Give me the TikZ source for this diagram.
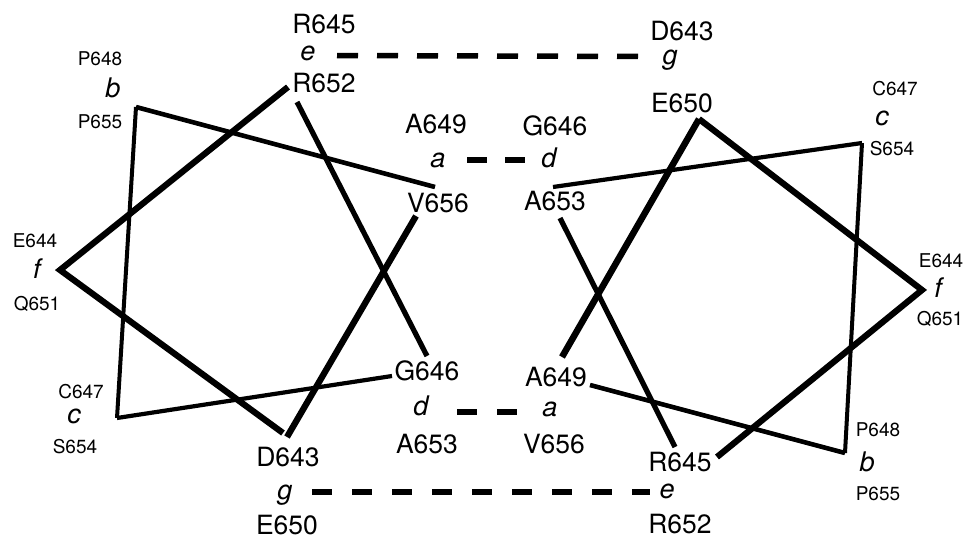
\documentclass[tikz,border=0pt]{standalone}
\usepackage{fontspec}
\setmainfont{TeX Gyre Heros}
\begin{document}
\begin{tikzpicture}[x=1pt,y=-1pt,
  big/.style={font=\fontsize{26.5}{28}\selectfont, anchor=base, inner sep=0pt},
  small/.style={font=\fontsize{19}{20}\selectfont, anchor=base, inner sep=0pt},
  heptad/.style={font=\fontsize{27}{28}\selectfont\itshape, anchor=base, inner sep=0pt},
  wheel/.style={line cap=butt, line join=miter, miter limit=20},
  link/.style={line width=5.5pt, dash pattern=on 21pt off 19pt}]
\useasboundingbox (0,0) rectangle (967,538);

% ---------------- left wheel labels
\node[big] (lR645) at (324,33) {R645};
\node[heptad] (le) at (308,60) {e};
\node[big] (lR652) at (324,92) {R652};
\node[small] (lP648) at (100,65) {P648};
\node[heptad] (lb) at (113,97) {b};
\node[small] (lP655) at (100,128) {P655};
\node[big] (lA649) at (436,133) {A649};
\node[heptad] (la) at (438,167) {a};
\node[big] (lV656) at (438,212) {V656};
\node[small] (lE644) at (35,247) {E644};
\node[heptad] (lf) at (37,278) {f};
\node[small] (lQ651) at (37,310) {Q651};
\node[small] (lC647) at (81,398) {C647};
\node[heptad] (lc) at (74,423) {c};
\node[small] (lS654) at (75,453) {S654};
\node[big] (lG646) at (427,380) {G646};
\node[heptad] (ld) at (421,415) {d};
\node[big] (lA653) at (427,453) {A653};
\node[big] (lD643) at (288,466) {D643};
\node[heptad] (lg) at (285,499) {g};
\node[big] (lE650) at (287,534) {E650};

% ---------------- right wheel labels
\node[big] (rD643) at (682,40) {D643};
\node[heptad] (rg) at (670,64) {g};
\node[big] (rE650) at (682,112) {E650};
\node[big] (rG646) at (555,135) {G646};
\node[heptad] (rd) at (549,167) {d};
\node[big] (rA653) at (555,210) {A653};
\node[small] (rC647) at (895,95) {C647};
\node[heptad] (rc) at (882,125) {c};
\node[small] (rS654) at (892,155) {S654};
\node[small] (rE644) at (941,267) {E644};
\node[heptad] (rf) at (938,297) {f};
\node[small] (rQ651) at (940,325) {Q651};
\node[big] (rA649) at (556,386) {A649};
\node[heptad] (ra) at (550,416) {a};
\node[big] (rV656) at (554,453) {V656};
\node[small] (rP648) at (878,436) {P648};
\node[heptad] (rb) at (867,471) {b};
\node[small] (rP655) at (878,500) {P655};
\node[big] (rR645) at (680,471) {R645};
\node[heptad] (re) at (667,498) {e};
\node[big] (rR652) at (680,533) {R652};

% ---------------- left wheel vertices
\coordinate (Lg1) at (283,433);
\coordinate (Lf) at (60,270);
\coordinate (Le1) at (288,87);
\coordinate (Le2) at (297,102);
\coordinate (Ld1) at (427,356);
\coordinate (Ld2) at (392,376);
\coordinate (Lc) at (117,418);
\coordinate (Lb) at (136,107);
\coordinate (La1) at (435,187);
\coordinate (La2) at (416,216);
\coordinate (Lg2) at (287,437);

\draw[wheel, line width=6.2pt] (Lg1) -- (Lf) -- (Le1);
\draw[wheel, line width=5.2pt] (Le2) -- (Ld1);
\draw[wheel, line width=4.2pt] (Ld2) -- (Lc);
\draw[wheel, line width=4pt] (Lc) -- (Lb);
\draw[wheel, line width=4.6pt] (Lb) -- (La1);
\draw[wheel, line width=6.3pt] (La2) -- (Lg2);

% ---------------- right wheel vertices
\coordinate (Rg1) at (699,119);
\coordinate (Rf) at (922,290);
\coordinate (Re1) at (717,457);
\coordinate (Re2) at (675,447);
\coordinate (Rd1) at (560,218);
\coordinate (Rd2) at (553,187);
\coordinate (Rc) at (862,143);
\coordinate (Rb) at (845,453);
\coordinate (Ra1) at (590,385);
\coordinate (Ra2) at (562,357);

\draw[wheel, line width=6.2pt] (Rg1) -- (Rf) -- (Re1);
\draw[wheel, line width=5.2pt] (Re2) -- (Rd1);
\draw[wheel, line width=4.2pt] (Rd2) -- (Rc);
\draw[wheel, line width=4pt] (Rc) -- (Rb);
\draw[wheel, line width=4.6pt] (Rb) -- (Ra1);
\draw[wheel, line width=6.5pt] (Ra2) -- (Rg1);

% ---------------- interhelical dashed links
\coordinate (t1) at (337,55.5);
\coordinate (t2) at (643,56.5);
\coordinate (m1) at (467,160);
\coordinate (m2) at (525,160);
\coordinate (n1) at (457,412);
\coordinate (n2) at (517,412);
\coordinate (b1) at (312,492);
\coordinate (b2) at (650,492);
\draw[link] (t1) -- (t2);
\draw[link, dash pattern=on 20pt off 18pt] (m1) -- (m2);
\draw[link, dash pattern=on 20pt off 20pt] (n1) -- (n2);
\draw[link, dash pattern=on 20pt off 20pt] (b1) -- (b2);
\end{tikzpicture}
\end{document}
